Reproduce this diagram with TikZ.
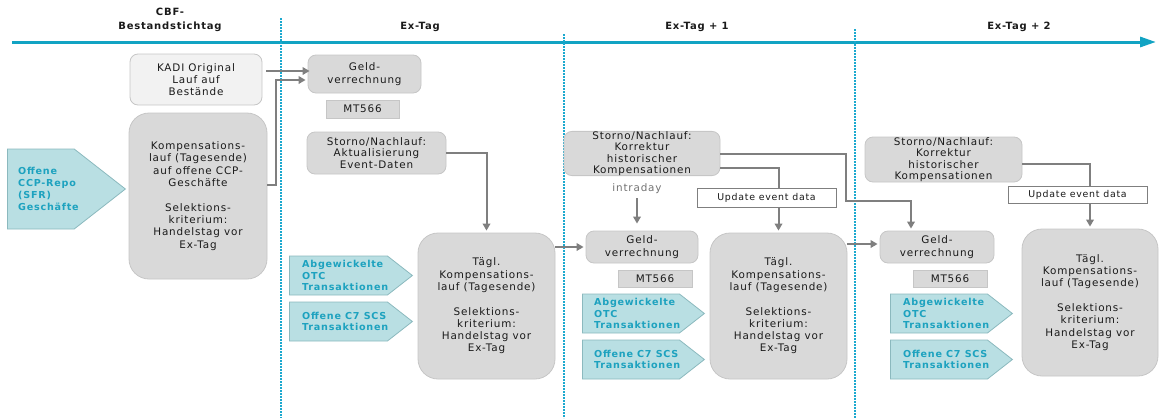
\documentclass[tikz,border=0pt]{standalone}
\usepackage{fontspec}
\setmainfont{DejaVu Sans}[LetterSpace=8]
\usetikzlibrary{arrows.meta,shapes.symbols}
\definecolor{tealline}{HTML}{12A3C3}
\definecolor{dotcol}{HTML}{1CA9CF}
\definecolor{pentfill}{HTML}{B9DFE3}
\definecolor{pentdraw}{HTML}{8BB9BE}
\definecolor{tealtext}{HTML}{1DA2BF}
\definecolor{boxgray}{HTML}{D9D9D9}
\definecolor{boxline}{HTML}{C6C6C6}
\definecolor{kadifill}{HTML}{F2F2F2}
\definecolor{arrowgray}{HTML}{7F7F7F}
\definecolor{txt}{HTML}{1A1A1A}
\newcommand\bodysize{\fontsize{10.4}{12.3}\selectfont}
\newcommand\stornosize{\fontsize{10.4}{11.4}\selectfont}
\begin{document}
\begin{tikzpicture}[x=1pt,y=-1pt,
  gbox/.style={draw=boxline, line width=0.8pt, fill=boxgray, rounded corners=8pt,
    align=center, inner sep=0pt, font=\bodysize, text=txt},
  bigbox/.style={gbox, rounded corners=20pt},
  sqbox/.style={draw=boxline, line width=0.8pt, fill=boxgray, inner sep=0pt, font=\bodysize, text=txt},
  updbox/.style={draw=arrowgray, line width=0.8pt, fill=white, inner sep=0pt,
    font=\fontsize{9.4}{12}\selectfont, text=txt},
  pent/.style={signal, signal to=east, signal pointer angle=76, draw=pentdraw,
    fill=pentfill, inner sep=0pt, line width=0.8pt, anchor=west},
  ptext/.style={font=\bfseries\fontsize{9.6}{11.7}\selectfont, text=tealtext,
    align=left, inner sep=0pt, anchor=west},
  hdr/.style={font=\bfseries\fontsize{10}{14}\selectfont, align=center, text=txt, inner sep=0pt},
  conn/.style={draw=arrowgray, line width=2pt, -{Triangle[length=7pt,width=7.5pt]}, shorten >=2pt},
  dotline/.style={draw=dotcol, line width=2.2pt, dash pattern=on 2pt off 1pt}
]
\useasboundingbox (0,0) rectangle (1159,418);

% timeline and day separators
\coordinate (tl0) at (12,42);
\coordinate (tl1) at (1156,42);
\draw[draw=tealline, line width=3pt, -{Triangle[length=16pt,width=10pt]}] (tl0) -- (tl1);
\coordinate (d1a) at (281,18);  \coordinate (d1b) at (281,418);
\coordinate (d2a) at (564,34);  \coordinate (d2b) at (564,418);
\coordinate (d3a) at (855,29);  \coordinate (d3b) at (855,418);
\draw[dotline] (d1a) -- (d1b);
\draw[dotline] (d2a) -- (d2b);
\draw[dotline] (d3a) -- (d3b);

% headers
\node[hdr] (h0) at (170,20) {CBF-\\Bestandstichtag};
\node[hdr] (h1) at (420,27) {Ex-Tag};
\node[hdr] (h2) at (697,27) {Ex-Tag + 1};
\node[hdr] (h3) at (1019,27) {Ex-Tag + 2};

% column 0
\node[gbox, fill=kadifill, minimum width=132pt, minimum height=51pt] (kadi) at (196,79.5)
  {KADI Original\\Lauf auf\\Bestände};
\node[bigbox, minimum width=138pt, minimum height=166pt] (komp) at (198,196)
  {Kompensations-\\lauf (Tagesende)\\auf offene CCP-\\Geschäfte\\[12.3pt]Selektions-\\kriterium:\\Handelstag vor\\Ex-Tag};
\node[pent, minimum width=118pt, minimum height=80pt] (pccp) at (7,189) {};
\node[ptext, font=\bfseries\fontsize{9.6}{12}\selectfont] (pccpt) at (18,189) {Offene\\CCP-Repo\\(SFR)\\Geschäfte};

% column 1 (Ex-Tag)
\node[gbox, minimum width=113pt, minimum height=38pt] (geld1) at (364.5,74) {Geld-\\verrechnung};
\node[sqbox, minimum width=73pt, minimum height=18pt] (mt1) at (362.5,109) {MT566};
\node[gbox, font=\stornosize, minimum width=139pt, minimum height=42pt] (storno1) at (376.5,153)
  {Storno/Nachlauf:\\Aktualisierung\\Event-Daten};
\node[pent, minimum width=123pt, minimum height=39pt] (abg1) at (289,275.5) {};
\node[ptext] (abg1t) at (302,275.5) {Abgewickelte\\OTC\\Transaktionen};
\node[pent, minimum width=123pt, minimum height=39pt] (off1) at (289,321.5) {};
\node[ptext] (off1t) at (302,321.5) {Offene C7 SCS\\Transaktionen};
\node[bigbox, minimum width=137pt, minimum height=146pt] (taegl1) at (486.5,306)
  {Tägl.\\Kompensations-\\lauf (Tagesende)\\[12.3pt]Selektions-\\kriterium:\\Handelstag vor\\Ex-Tag};

% column 2 (Ex-Tag + 1)
\node[gbox, font=\stornosize, minimum width=156pt, minimum height=43pt] (storno2) at (642,153.5)
  {Storno/Nachlauf:\\Korrektur\\historischer\\Kompensationen};
\node[inner sep=0pt, font=\fontsize{10.4}{12}\selectfont, text=arrowgray!90!black] (intra) at (637,189) {intraday};
\node[gbox, minimum width=112pt, minimum height=32pt] (geld2) at (642,247) {Geld-\\verrechnung};
\node[sqbox, minimum width=74pt, minimum height=17pt] (mt2) at (655,278.5) {MT566};
\node[pent, minimum width=122pt, minimum height=39pt] (abg2) at (582,313.5) {};
\node[ptext] (abg2t) at (594,313.5) {Abgewickelte\\OTC\\Transaktionen};
\node[pent, minimum width=122pt, minimum height=39pt] (off2) at (582,359.5) {};
\node[ptext] (off2t) at (594,359.5) {Offene C7 SCS\\Transaktionen};
\node[bigbox, minimum width=137pt, minimum height=146pt] (taegl2) at (778.5,306)
  {Tägl.\\Kompensations-\\lauf (Tagesende)\\[12.3pt]Selektions-\\kriterium:\\Handelstag vor\\Ex-Tag};

% column 3 (Ex-Tag + 2)
\node[gbox, font=\stornosize, minimum width=157pt, minimum height=45pt] (storno3) at (943.5,159.5)
  {Storno/Nachlauf:\\Korrektur\\historischer\\Kompensationen};
\node[gbox, minimum width=114pt, minimum height=32pt] (geld3) at (937,247) {Geld-\\verrechnung};
\node[sqbox, minimum width=74pt, minimum height=17pt] (mt3) at (950,278.5) {MT566};
\node[pent, minimum width=122pt, minimum height=39pt] (abg3) at (890,313.5) {};
\node[ptext] (abg3t) at (903,313.5) {Abgewickelte\\OTC\\Transaktionen};
\node[pent, minimum width=122pt, minimum height=39pt] (off3) at (890,359.5) {};
\node[ptext] (off3t) at (903,359.5) {Offene C7 SCS\\Transaktionen};
\node[bigbox, minimum width=136pt, minimum height=147pt] (taegl3) at (1090,302.5)
  {Tägl.\\Kompensations-\\lauf (Tagesende)\\[12.3pt]Selektions-\\kriterium:\\Handelstag vor\\Ex-Tag};

% connectors
\draw[conn] ([xshift=4pt,yshift=8.5pt]kadi.east) -- ([xshift=4pt,yshift=8.5pt]kadi.east -| geld1.west);
\draw[conn] ([yshift=11pt]komp.east) -- ++(9,0) |- ([yshift=-6pt]geld1.west);
\draw[conn] (storno1.east) -| (taegl1.north);
\draw[conn] (taegl1.east |- geld2.west) -- (geld2.west);
\draw[conn, shorten <=4pt, shorten >=7pt] (intra.south) -- (intra.south |- geld2.north);
\coordinate (k1) at (846,201);
\draw[conn] (storno2.east) -| (k1) -| ([xshift=-26pt]geld3.north);
\draw[conn] ([yshift=-14pt]storno2.east) -| (taegl2.north);
\draw[conn] ([yshift=3pt]taegl2.east |- geld3.west) -- ([yshift=3pt]geld3.west);
\draw[conn] ([yshift=-4pt]storno3.east) -| (taegl3.north);

% event-data boxes on top of the lines
\node[updbox, minimum width=139pt, minimum height=19pt] (upd2) at (766.5,197.5) {Update event data};
\node[updbox, minimum width=139pt, minimum height=17pt] (upd3) at (1077.5,194.5) {Update event data};
\end{tikzpicture}
\end{document}
